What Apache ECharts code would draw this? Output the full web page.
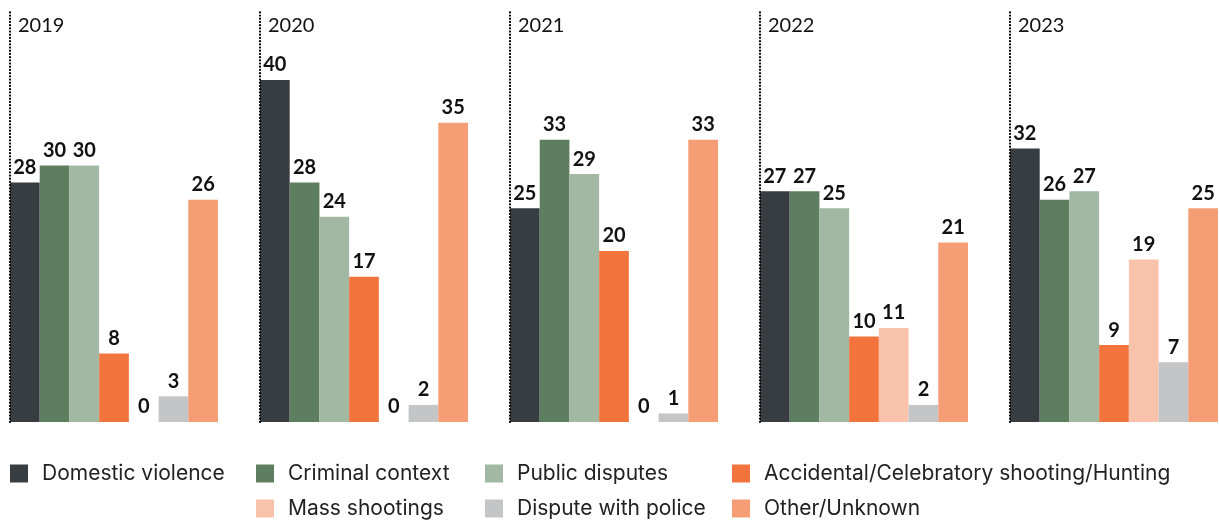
<!DOCTYPE html>
<html>
<head>
<meta charset="utf-8">
<script src="https://cdn.jsdelivr.net/npm/echarts@6/dist/echarts.min.js"></script>
<style>
  html, body { margin: 0; padding: 0; background: #fff; }
  #chart { width: 1219px; height: 520px; }
</style>
</head>
<body>
<div id="chart"></div>
<script>
// years (one panel each) and causes (one bar each)
var years = ['2019', '2020', '2021', '2022', '2023'];
var causes = [
  'Domestic violence',
  'Criminal context',
  'Public disputes',
  'Accidental/Celebratory shooting/Hunting',
  'Mass shootings',
  'Dispute with police',
  'Other/Unknown'
];
var colors = ['#383d41', '#5e7f5f', '#a3b8a3', '#f2743c', '#f8c3aa', '#c4c5c7', '#f59e76'];

// values per cause, in the order of years
var domesticViolence = [28, 40, 25, 27, 32];
var criminalContext  = [30, 28, 33, 27, 26];
var publicDisputes   = [30, 24, 29, 25, 27];
var accidental       = [8, 17, 20, 10, 9];
var massShootings    = [0, 0, 0, 11, 19];
var disputePolice    = [3, 2, 1, 2, 7];
var otherUnknown     = [26, 35, 33, 21, 25];
var values = [domesticViolence, criminalContext, publicDisputes, accidental, massShootings, disputePolice, otherUnknown];

var font = 'Lato';
var legendFont = 'Inter';
var panelW = 250, barsW = 208, baseY = 422, topY = 10;
// 40 sits at y=80, so the dotted line top (y=10) is a bit above it
var yMax = 40 * (baseY - topY) / (baseY - 80);

var grids = [], xAxes = [], yAxes = [], titles = [], series = [];
years.forEach(function (yr, i) {
  grids.push({ left: 10 + panelW * i, top: topY, width: barsW, height: baseY - topY });
  xAxes.push({
    type: 'category', gridIndex: i, data: [yr],
    axisLine: { show: false }, axisTick: { show: false }, axisLabel: { show: false }
  });
  yAxes.push({
    type: 'value', gridIndex: i, min: 0, max: yMax, z: 5,
    splitLine: { show: false }, axisTick: { show: false }, axisLabel: { show: false },
    axisLine: { show: true, lineStyle: { color: '#000', width: 2.2, cap: 'round', type: [0.1, 3.1] } }
  });
  titles.push({
    text: yr, left: 13 + panelW * i, top: 11,
    textStyle: { fontFamily: font, fontSize: 20, fontWeight: 'normal', color: '#111' }
  });
  causes.forEach(function (c, k) {
    series.push({
      name: c, type: 'bar', xAxisIndex: i, yAxisIndex: i,
      barGap: '0%', barCategoryGap: '0%',
      itemStyle: { color: colors[k] },
      label: {
        show: true, position: 'top', distance: 5,
        fontFamily: font, fontSize: 20, fontWeight: 'bold', color: '#111'
      },
      data: [values[k][i]]
    });
  });
});

// legend laid out as a grid: one legend component per entry
var legendPos = [[10, 463], [256, 463], [485, 463], [732, 463], [256, 498], [485, 498], [732, 498]];
var legends = causes.map(function (c, k) {
  return {
    data: [c], left: legendPos[k][0], top: legendPos[k][1],
    icon: 'rect', itemWidth: 18, itemHeight: 18, padding: 0,
    selectedMode: false,
    textStyle: { fontFamily: legendFont, fontSize: 21, color: '#222', padding: [0, 0, 0, 9] }
  };
});

var chart = echarts.init(document.getElementById('chart'));
chart.setOption({
  animation: false,
  color: colors,
  title: titles,
  legend: legends,
  grid: grids,
  xAxis: xAxes,
  yAxis: yAxes,
  series: series
});
</script>
</body>
</html>
